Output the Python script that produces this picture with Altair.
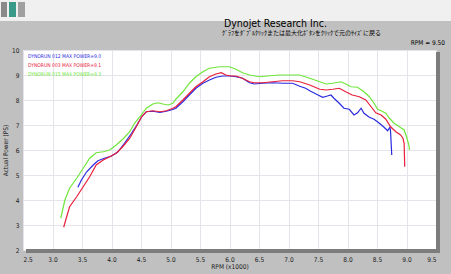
import altair as alt
import pandas as pd

# ---- data ----
runs = ["DYNORUN 012", "DYNORUN 003", "DYNORUN 015"]
max_power = ["9.0", "9.1", "9.3"]
colors = ["#2a2ae0", "#e8203c", "#6fe63a"]

rpm_012 = [3.43,3.49,3.58,3.69,3.77,3.88,4.00,4.11,4.22,4.34,4.43,4.52,4.59,4.70,4.82,4.93,5.04,5.09,5.21,5.32,5.43,5.55,5.66,5.77,5.89,6.00,6.11,6.22,6.34,6.42,6.56,6.73,6.90,7.07,7.19,7.29,7.36,7.50,7.58,7.66,7.72,7.77,7.86,7.94,8.03,8.11,8.17,8.23,8.28,8.37,8.45,8.54,8.62,8.68,8.72,8.73,8.75]
pw_012 = [4.51,4.80,5.13,5.40,5.57,5.67,5.76,5.93,6.27,6.67,7.00,7.36,7.53,7.55,7.50,7.55,7.62,7.67,7.93,8.20,8.47,8.67,8.80,8.91,8.96,8.96,8.93,8.87,8.69,8.64,8.67,8.69,8.67,8.67,8.55,8.47,8.37,8.20,8.11,8.16,8.20,8.07,7.87,7.67,7.63,7.40,7.49,7.67,7.47,7.31,7.23,7.07,6.91,6.77,6.91,6.73,5.80]

rpm_003 = [3.19,3.24,3.29,3.41,3.52,3.63,3.74,3.86,3.97,4.08,4.19,4.31,4.42,4.51,4.59,4.70,4.82,4.93,5.04,5.09,5.21,5.32,5.43,5.55,5.66,5.77,5.86,5.94,6.03,6.11,6.22,6.34,6.42,6.56,6.73,6.90,7.07,7.19,7.36,7.53,7.64,7.75,7.86,7.97,8.08,8.20,8.31,8.40,8.48,8.57,8.65,8.73,8.82,8.90,8.94,8.96,8.97]
pw_003 = [2.91,3.33,3.73,4.13,4.53,4.93,5.40,5.60,5.73,5.87,6.13,6.47,6.93,7.33,7.53,7.57,7.53,7.57,7.67,7.73,8.00,8.27,8.53,8.73,8.93,9.04,9.09,9.00,8.96,8.96,8.87,8.73,8.69,8.69,8.73,8.77,8.77,8.73,8.60,8.43,8.40,8.43,8.47,8.33,8.20,8.13,8.00,7.73,7.49,7.40,7.23,6.93,6.73,6.60,6.47,6.27,5.33]

rpm_015 = [3.14,3.21,3.29,3.41,3.52,3.63,3.74,3.86,3.97,4.08,4.19,4.31,4.39,4.48,4.59,4.70,4.79,4.87,4.96,5.04,5.09,5.21,5.32,5.43,5.55,5.66,5.83,6.00,6.11,6.22,6.34,6.51,6.68,6.85,7.07,7.19,7.36,7.53,7.64,7.75,7.89,7.97,8.06,8.17,8.28,8.37,8.45,8.51,8.57,8.65,8.71,8.79,8.88,8.96,9.00,9.04,9.05]
pw_015 = [3.27,4.00,4.47,4.87,5.27,5.67,5.89,5.93,6.00,6.20,6.43,6.73,7.07,7.33,7.67,7.84,7.89,7.84,7.80,7.87,8.03,8.33,8.67,8.93,9.13,9.27,9.33,9.33,9.23,9.09,9.00,8.93,8.97,9.00,9.00,9.00,8.87,8.73,8.64,8.67,8.73,8.64,8.53,8.51,8.33,8.13,7.87,7.63,7.57,7.47,7.27,7.07,6.93,6.80,6.53,6.20,6.00]

x_ticks = [2.5, 3.0, 3.5, 4.0, 4.5, 5.0, 5.5, 6.0, 6.5, 7.0, 7.5, 8.0, 8.5, 9.0, 9.5]
y_ticks = [2, 3, 4, 5, 6, 7, 8, 9, 10]

title_text = "Dynojet  Research  Inc."
subtitle_text = "ｸﾞﾗﾌをﾀﾞﾌﾞﾙｸﾘｯｸまたは最大化ﾎﾞﾀﾝをｸﾘｯｸで元のｻｲｽﾞに戻る"
rpm_readout = "RPM = 9.50"
x_title = "RPM (x1000)"
y_title = "Actual Power (PS)"

W, H = 413, 200
FONT = "Liberation Sans Narrow, DejaVu Sans Condensed, Liberation Sans, sans-serif"

rows = []
for run, xs, ys in [(runs[0], rpm_012, pw_012), (runs[1], rpm_003, pw_003), (runs[2], rpm_015, pw_015)]:
    for i, (a, b) in enumerate(zip(xs, ys)):
        rows.append({"run": run, "rpm": a, "power": b, "order": i})
df = pd.DataFrame(rows)

color_scale = alt.Scale(domain=runs, range=colors)

lines = alt.Chart(df).mark_line(strokeWidth=1.2, clip=True).encode(
    x=alt.X("rpm:Q", scale=alt.Scale(domain=[2.5, 9.5], nice=False),
            axis=alt.Axis(values=x_ticks, format=".1f", title=x_title, grid=True,
                          ticks=False, domain=False, labelPadding=6, titlePadding=1,
                          labelFontSize=6.5, titleFontSize=6.5, titleFontWeight="normal")),
    y=alt.Y("power:Q", scale=alt.Scale(domain=[2, 10], nice=False),
            axis=alt.Axis(values=y_ticks, title=y_title, grid=True, ticks=False,
                          domain=False, labelPadding=4, titlePadding=3,
                          labelFontSize=6.5, titleFontSize=6.5, titleFontWeight="normal")),
    color=alt.Color("run:N", scale=color_scale, legend=None),
    order="order:Q",
)

def deco_rect(x, x2, y, y2, color):
    return alt.Chart(pd.DataFrame({"k": [0]})).mark_rect(color=color).encode(
        x=alt.value(x), x2=alt.value(x2), y=alt.value(y), y2=alt.value(y2))

def label(text, x, y, size, color="#000000", align="left", font=FONT):
    return alt.Chart(pd.DataFrame({"t": [text]})).mark_text(
        align=align, baseline="middle", fontSize=size, font=font, color=color
    ).encode(x=alt.value(x), y=alt.value(y), text="t:N")

layers = [
    deco_rect(-23, 428, -50, -29, "#f0f0f0"),
    deco_rect(-22, -16, -48, -33, "#8a8a8a"),
    deco_rect(-14, -7, -48, -33, "#3a9a8a"),
    deco_rect(-5, 2, -48, -33, "#a0a0a0"),
    deco_rect(W, W + 4, 2, H + 3, "#7c7c7c"),
    deco_rect(3, W + 4, H - 1, H + 3, "#7c7c7c"),
    lines,
    label(title_text, 201, -26, 10.5),
    label(subtitle_text, 199, -17, 6, font="Noto Sans CJK JP"),
    label(rpm_readout, 422, -7, 6.5, align="right"),
]
for i, (run, mp, col) in enumerate(zip(runs, max_power, colors)):
    layers.append(label(f"{run}  MAX POWER={mp}", 5, 5.7 + 9 * i, 5, color=col))

chart = alt.layer(*layers).properties(
    width=W, height=H,
    autosize=alt.AutoSizeParams(type="none"),
    padding={"left": 23, "top": 50, "right": 15, "bottom": 24},
    background="#c0c0c0",
).configure_view(stroke=None, fill="#ffffff").configure_axis(
    gridColor="#e4e4ea", gridWidth=1, labelColor="#202020", titleColor="#202020",
    labelFont=FONT, titleFont=FONT,
)

chart.save("out.html", embed_options={"renderer": "svg", "actions": False})
